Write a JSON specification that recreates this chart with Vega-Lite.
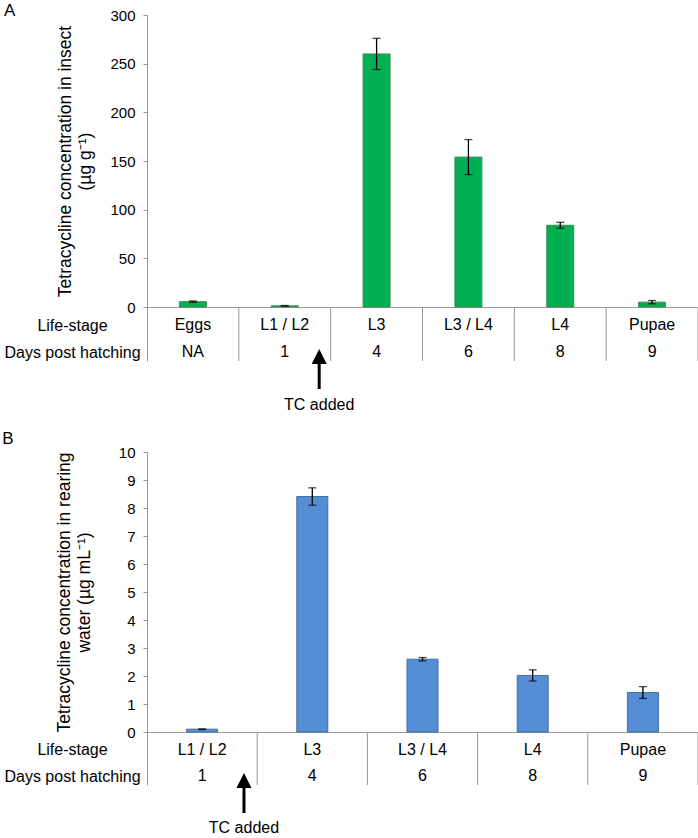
{
  "$schema": "https://vega.github.io/schema/vega-lite/v6.json",
  "padding": {"left": 2, "top": 2, "right": 1, "bottom": 0},
  "background": "white",
  "config": {
    "view": {"stroke": null},
    "font": "Liberation Sans",
    "axis": {"labelFont": "Liberation Sans", "titleFont": "Liberation Sans", "labelColor": "black", "titleColor": "black", "domainColor": "#999999", "tickColor": "#999999", "grid": false},
    "title": {"font": "Liberation Sans", "fontSize": 17, "fontWeight": "normal", "color": "black"}
  },
  "datasets": {
    "insect": [
      {"Life-stage": "Eggs", "Days post hatching": "NA", "value": 5.5, "err": 0.7},
      {"Life-stage": "L1 / L2", "Days post hatching": "1", "value": 1.2, "err": 0.3},
      {"Life-stage": "L3", "Days post hatching": "4", "value": 260, "err": 16},
      {"Life-stage": "L3 / L4", "Days post hatching": "6", "value": 154, "err": 18},
      {"Life-stage": "L4", "Days post hatching": "8", "value": 84, "err": 3},
      {"Life-stage": "Pupae", "Days post hatching": "9", "value": 5, "err": 1.7}
    ],
    "water": [
      {"Life-stage": "L1 / L2", "Days post hatching": "1", "value": 0.1, "err": 0.01},
      {"Life-stage": "L3", "Days post hatching": "4", "value": 8.41, "err": 0.31},
      {"Life-stage": "L3 / L4", "Days post hatching": "6", "value": 2.6, "err": 0.06},
      {"Life-stage": "L4", "Days post hatching": "8", "value": 2.02, "err": 0.2},
      {"Life-stage": "Pupae", "Days post hatching": "9", "value": 1.41, "err": 0.21}
    ],
    "treatment": [
      {"Life-stage": "L1 / L2", "event": "TC added"}
    ]
  },
  "spacing": 17,
  "vconcat": [
    {
      "spacing": 0,
      "bounds": "flush",
      "vconcat": [
        {
          "width": 551,
          "height": 292,
          "title": {"text": "A", "anchor": "start", "frame": "bounds", "dx": -53, "offset": -12},
          "data": {"name": "insect"},
          "encoding": {
            "x": {"field": "Life-stage", "type": "nominal", "sort": null, "scale": {"type": "band", "paddingInner": 0, "paddingOuter": 0}, "axis": {"labels": false, "ticks": false, "title": null}},
            "y": {"field": "value", "type": "quantitative", "scale": {"domain": [0, 300], "nice": false},
              "axis": {"values": [0, 50, 100, 150, 200, 250, 300], "title": ["Tetracycline concentration in insect", "(µg g⁻¹)"], "titleFontSize": 17.5, "titleFontWeight": "normal", "titleLineHeight": 20, "titlePadding": 15, "labelFontSize": 15, "labelPadding": 8, "tickSize": 4}}
          },
          "layer": [
            {"mark": {"type": "bar", "size": 27, "fill": "#00B050", "stroke": "#3E8C5A", "strokeWidth": 1}},
            {"mark": {"type": "errorbar", "ticks": {"color": "black"}, "rule": {"color": "black"}, "size": 8, "thickness": 1.3},
             "encoding": {"yError": {"field": "err"}}}
          ]
        },
        {
          "width": 551,
          "height": 54,
          "data": {"name": "insect"},
          "transform": [{"fold": ["Life-stage", "Days post hatching"], "as": ["row", "cell"]}],
          "layer": [
            {"transform": [{"filter": {"field": "row", "equal": "Life-stage"}}],
             "mark": {"type": "rule", "color": "#999999", "strokeWidth": 1},
             "encoding": {"x": {"field": "Life-stage", "type": "nominal", "sort": null, "bandPosition": 1, "scale": {"type": "band", "paddingInner": 0, "paddingOuter": 0}, "axis": null}}},
            {"mark": {"type": "text", "fontSize": 16, "dy": 4.5, "color": "black"},
             "encoding": {
               "x": {"field": "Life-stage", "type": "nominal", "sort": null, "axis": null},
               "y": {"field": "row", "type": "nominal", "scale": {"domain": ["Life-stage", "Days post hatching"]},
                 "axis": {"title": null, "ticks": false, "tickSize": 0, "domain": true, "labelAlign": "center", "labelPadding": 75, "labelFontSize": 16, "labelOffset": 4.5}},
               "text": {"field": "cell"}
             }}
          ]
        },
        {
          "width": 551,
          "height": 50,
          "data": {"name": "treatment"},
          "encoding": {
            "x": {"field": "Life-stage", "type": "nominal", "bandPosition": 0.875, "scale": {"type": "band", "domain": ["Eggs", "L1 / L2", "L3", "L3 / L4", "L4", "Pupae"], "paddingInner": 0, "paddingOuter": 0}, "axis": null}
          },
          "layer": [
            {"mark": {"type": "point", "shape": "M0,-1L0.375,-0.25L0.075,-0.25L0.075,1L-0.075,1L-0.075,-0.25L-0.375,-0.25Z", "filled": true, "color": "black", "opacity": 1, "size": 1600},
             "encoding": {"y": {"datum": 0.16, "type": "quantitative", "scale": {"domain": [0, 1], "reverse": true}, "axis": null}}},
            {"mark": {"type": "text", "fontSize": 16, "color": "black"},
             "encoding": {"y": {"datum": 0.88, "type": "quantitative"}, "text": {"field": "event"}}}
          ]
        }
      ]
    },
    {
      "spacing": 0,
      "bounds": "flush",
      "vconcat": [
        {
          "width": 551,
          "height": 280,
          "title": {"text": "B", "anchor": "start", "frame": "bounds", "dx": -53, "offset": -3},
          "data": {"name": "water"},
          "encoding": {
            "x": {"field": "Life-stage", "type": "nominal", "sort": null, "scale": {"type": "band", "paddingInner": 0, "paddingOuter": 0}, "axis": {"labels": false, "ticks": false, "title": null}},
            "y": {"field": "value", "type": "quantitative", "scale": {"domain": [0, 10], "nice": false},
              "axis": {"values": [0, 1, 2, 3, 4, 5, 6, 7, 8, 9, 10], "title": ["Tetracycline concentration in rearing", "water (µg mL⁻¹)"], "titleFontSize": 17.5, "titleFontWeight": "normal", "titleLineHeight": 20, "titlePadding": 25, "labelFontSize": 15, "labelPadding": 8, "tickSize": 4}}
          },
          "layer": [
            {"mark": {"type": "bar", "size": 31, "fill": "#558ED5", "stroke": "#41719C", "strokeWidth": 1}},
            {"mark": {"type": "errorbar", "ticks": {"color": "black"}, "rule": {"color": "black"}, "size": 8, "thickness": 1.3},
             "encoding": {"yError": {"field": "err"}}}
          ]
        },
        {
          "width": 551,
          "height": 53,
          "data": {"name": "water"},
          "transform": [{"fold": ["Life-stage", "Days post hatching"], "as": ["row", "cell"]}],
          "layer": [
            {"transform": [{"filter": {"field": "row", "equal": "Life-stage"}}],
             "mark": {"type": "rule", "color": "#999999", "strokeWidth": 1},
             "encoding": {"x": {"field": "Life-stage", "type": "nominal", "sort": null, "bandPosition": 1, "scale": {"type": "band", "paddingInner": 0, "paddingOuter": 0}, "axis": null}}},
            {"mark": {"type": "text", "fontSize": 16, "dy": 4.5, "color": "black"},
             "encoding": {
               "x": {"field": "Life-stage", "type": "nominal", "sort": null, "axis": null},
               "y": {"field": "row", "type": "nominal", "scale": {"domain": ["Life-stage", "Days post hatching"]},
                 "axis": {"title": null, "ticks": false, "tickSize": 0, "domain": true, "labelAlign": "center", "labelPadding": 75, "labelFontSize": 16, "labelOffset": 4.5}},
               "text": {"field": "cell"}
             }}
          ]
        },
        {
          "width": 551,
          "height": 50,
          "data": {"name": "treatment"},
          "encoding": {
            "x": {"field": "Life-stage", "type": "nominal", "bandPosition": 0.88, "scale": {"type": "band", "domain": ["L1 / L2", "L3", "L3 / L4", "L4", "Pupae"], "paddingInner": 0, "paddingOuter": 0}, "axis": null}
          },
          "layer": [
            {"mark": {"type": "point", "shape": "M0,-1L0.375,-0.25L0.075,-0.25L0.075,1L-0.075,1L-0.075,-0.25L-0.375,-0.25Z", "filled": true, "color": "black", "opacity": 1, "size": 1600},
             "encoding": {"y": {"datum": 0.16, "type": "quantitative", "scale": {"domain": [0, 1], "reverse": true}, "axis": null}}},
            {"mark": {"type": "text", "fontSize": 16, "color": "black"},
             "encoding": {"y": {"datum": 0.86, "type": "quantitative"}, "text": {"field": "event"}}}
          ]
        }
      ]
    }
  ]
}
